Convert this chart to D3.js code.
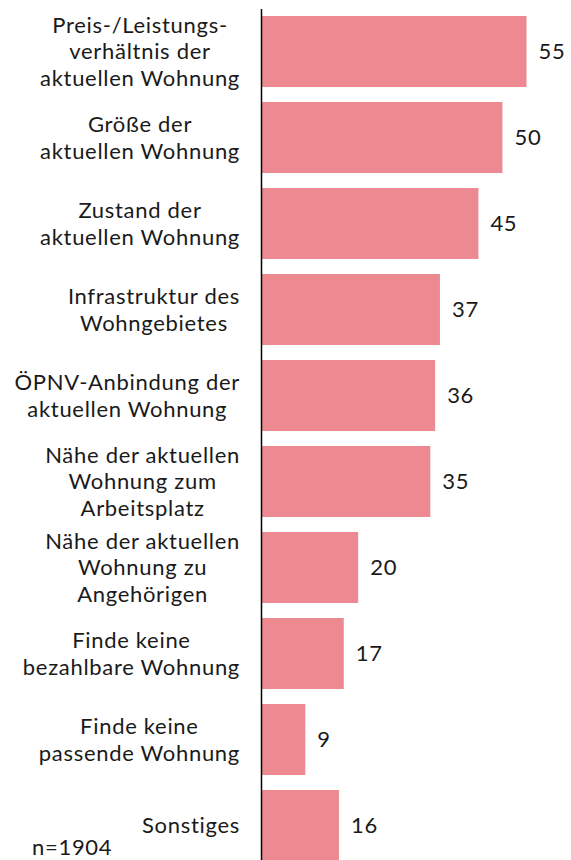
<!DOCTYPE html>
<html>
<head>
<meta charset="utf-8">
<script src="https://cdn.jsdelivr.net/npm/d3@7"></script>
<style>
  html, body { margin: 0; padding: 0; background: #fff; }
  svg { display: block; }
  text { font-family: Lato, "Open Sans", sans-serif; fill: #1a1a1a; letter-spacing: 0.7px; }
</style>
</head>
<body>
<svg id="chart" width="571" height="860"></svg>
<script>
const categories = [
  "Preis-/Leistungs-\nverhältnis der\naktuellen Wohnung",
  "Größe der\naktuellen Wohnung",
  "Zustand der\naktuellen Wohnung",
  "Infrastruktur des\nWohngebietes",
  "ÖPNV-Anbindung der\naktuellen Wohnung",
  "Nähe der aktuellen\nWohnung zum\nArbeitsplatz",
  "Nähe der aktuellen\nWohnung zu\nAngehörigen",
  "Finde keine\nbezahlbare Wohnung",
  "Finde keine\npassende Wohnung",
  "Sonstiges"
];
const values = [55, 50, 45, 37, 36, 35, 20, 17, 9, 16];
const note = "n=1904";

const svg = d3.select("#chart");
const x0 = 262;
const fontSize = 22;
const lineH = 26.7;

const x = d3.scaleLinear().domain([0, 55]).range([x0, x0 + 264.5]);
const y = d3.scaleBand()
  .domain(categories)
  .range([8.5, 8.5 + 860])
  .paddingInner(0.1744)
  .paddingOuter(0.0872);

const color = "#ED8990";

svg.append("g").selectAll("rect")
  .data(categories)
  .join("rect")
  .attr("x", x(0))
  .attr("y", d => y(d))
  .attr("width", (d, i) => x(values[i]) - x(0))
  .attr("height", y.bandwidth())
  .attr("fill", color);

// category labels
const lab = svg.append("g").selectAll("text")
  .data(categories)
  .join("text")
  .style("font-size", fontSize + "px")
  .attr("transform", d => `translate(0, ${y(d) + y.bandwidth() / 2})`);

lab.each(function(d) {
  const lines = d.split("\n");
  const t = d3.select(this);
  const n = lines.length;
  lines.forEach((ln, k) => {
    t.append("tspan")
      .attr("text-anchor", "end")
      .attr("x", 240)
      .attr("y", (k - (n - 1) / 2) * lineH)
      .attr("dy", "0.35em")
      .text(ln);
  });
});

// lines of a block centred on each other, block right-aligned at x=240
lab.each(function() {
  const tspans = d3.select(this).selectAll("tspan").nodes();
  const widths = tspans.map(n => n.getComputedTextLength());
  const maxW = d3.max(widths);
  tspans.forEach(n => {
    d3.select(n).attr("text-anchor", "middle").attr("x", 240 - maxW / 2);
  });
});

// value labels
svg.append("g").selectAll("text")
  .data(categories)
  .join("text")
  .attr("x", (d, i) => x(values[i]) + 12)
  .attr("y", d => y(d) + y.bandwidth() / 2)
  .attr("dy", "0.35em")
  .style("font-size", fontSize + "px")
  .text((d, i) => values[i]);

// axis line
svg.append("line")
  .attr("x1", x0 - 0.5).attr("x2", x0 - 0.5)
  .attr("y1", 9).attr("y2", 860)
  .attr("stroke", "#000")
  .attr("stroke-width", 1.5);

svg.append("text")
  .attr("x", 32)
  .attr("y", 855)
  .style("font-size", fontSize + "px")
  .text(note);
</script>
</body>
</html>
